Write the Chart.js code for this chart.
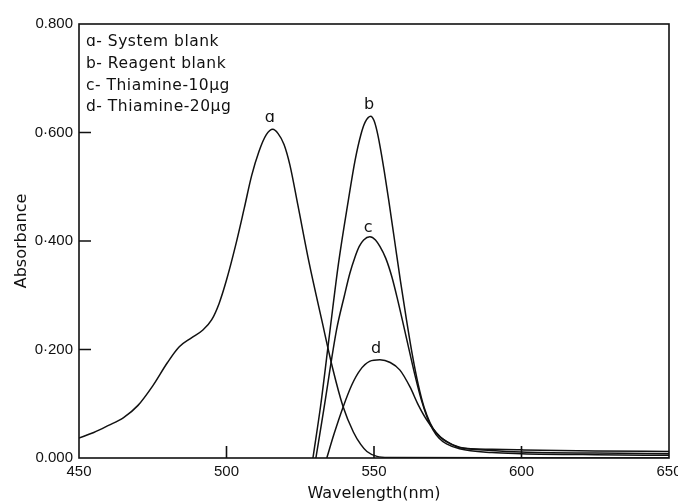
<!DOCTYPE html>
<html>
<head>
<meta charset="utf-8">
<script src="https://cdn.jsdelivr.net/npm/chart.js@4/dist/chart.umd.min.js"></script>
<style>
  html, body { margin: 0; padding: 0; background: #fff; }
  #wrap { position: relative; width: 678px; height: 504px; }
</style>
</head>
<body>
<div id="wrap"><canvas id="spectra"></canvas></div>
<script>
// curve a - system blank
const aWavelength = [450, 455, 460, 465, 470, 475, 480, 484, 488, 492, 495, 497.5, 500, 503, 506, 508.5, 511, 513.5, 515.7, 517.5, 519.5, 521.5, 524.2, 528, 532.3, 536, 539.5, 543, 545.5, 547.6, 551, 555, 650];
const aAbsorbance = [0.037, 0.047, 0.060, 0.074, 0.097, 0.133, 0.176, 0.205, 0.221, 0.236, 0.255, 0.285, 0.328, 0.39, 0.46, 0.52, 0.565, 0.596, 0.606, 0.598, 0.578, 0.54, 0.466, 0.36, 0.254, 0.165, 0.095, 0.048, 0.025, 0.012, 0.003, 0.001, 0];

// curve b - reagent blank
const bWavelength = [529.3, 532, 535.1, 538, 541.3, 543.6, 545.5, 547, 548.9, 550, 551, 552, 553.5, 555, 557, 559, 561, 563, 565, 567, 569, 571, 574.6, 579, 590, 600, 625, 650];
const bAbsorbance = [0, 0.10, 0.236, 0.36, 0.475, 0.549, 0.595, 0.619, 0.630, 0.622, 0.603, 0.576, 0.528, 0.475, 0.40, 0.325, 0.255, 0.19, 0.135, 0.093, 0.065, 0.047, 0.030, 0.020, 0.014, 0.011, 0.009, 0.008];

// curve c - thiamine 10 ug
const cWavelength = [530.3, 533, 537.3, 540, 541.8, 543.6, 545, 546.5, 548.6, 550.5, 552, 554, 556, 558, 560, 562, 564, 566, 568, 570, 572, 574.6, 579, 590, 600, 625, 650];
const cAbsorbance = [0, 0.09, 0.236, 0.30, 0.34, 0.371, 0.39, 0.402, 0.408, 0.402, 0.39, 0.368, 0.335, 0.292, 0.245, 0.197, 0.15, 0.108, 0.075, 0.052, 0.037, 0.026, 0.017, 0.010, 0.008, 0.006, 0.005];

// curve d - thiamine 20 ug
const dWavelength = [534, 536.5, 539.6, 542.5, 545.3, 548.5, 552, 555.5, 558.8, 562.2, 565, 567.9, 572.4, 576, 579.2, 590, 600, 625, 650];
const dAbsorbance = [0, 0.045, 0.095, 0.135, 0.162, 0.178, 0.181, 0.176, 0.162, 0.131, 0.098, 0.070, 0.039, 0.026, 0.019, 0.016, 0.015, 0.013, 0.012];

const yTickLabels = ["0.000", "0\u00b7200", "0\u00b7400", "0\u00b7600", "0.800"];
const innerXTicks = [500, 550, 600];
const innerYTicks = [0.2, 0.4, 0.6];

const curveLetters = ["\u0251", "b", "c", "d"];
const letterWavelength = [514.7, 548.3, 548, 550.7];
const letterAbsorbance = [0.627, 0.651, 0.424, 0.201];

const keyLines = ["\u0251- System blank", "b- Reagent blank", "c- Thiamine-10\u00b5g", "d- Thiamine-20\u00b5g"];

const ink = "#111";

const toPoints = (xs, ys) => xs.map((v, i) => ({ x: v, y: ys[i] }));

const makeSet = (label, xs, ys) => ({
  label: label,
  data: toPoints(xs, ys),
  borderColor: ink,
  borderWidth: 1.5,
  pointRadius: 0,
  fill: false,
  cubicInterpolationMode: "monotone",
});

// frame, inward ticks, curve letters and the key
const decorations = {
  id: "decorations",
  afterDatasetsDraw(chart) {
    const { ctx, chartArea: area, scales: { x, y } } = chart;
    ctx.save();
    ctx.strokeStyle = ink;
    ctx.lineWidth = 1.6;
    ctx.strokeRect(area.left, area.top, area.right - area.left, area.bottom - area.top);

    ctx.beginPath();
    innerXTicks.forEach((v) => {
      const px = x.getPixelForValue(v);
      ctx.moveTo(px, area.bottom);
      ctx.lineTo(px, area.bottom - 12);
    });
    innerYTicks.forEach((v) => {
      const py = y.getPixelForValue(v);
      ctx.moveTo(area.left, py);
      ctx.lineTo(area.left + 12, py);
    });
    ctx.stroke();

    ctx.fillStyle = ink;
    ctx.font = '16px "DejaVu Sans"';
    ctx.textAlign = "center";
    ctx.textBaseline = "middle";
    curveLetters.forEach((t, i) => {
      ctx.fillText(t, x.getPixelForValue(letterWavelength[i]), y.getPixelForValue(letterAbsorbance[i]));
    });

    ctx.textAlign = "left";
    ctx.font = '15.5px "DejaVu Sans"';
    ctx.letterSpacing = "0.5px";
    keyLines.forEach((t, i) => {
      ctx.fillText(t, area.left + 7, area.top + 18 + i * 21.8);
    });
    ctx.restore();
  },
};

new Chart(document.getElementById("spectra"), {
  type: "line",
  data: {
    datasets: [
      makeSet("a", aWavelength, aAbsorbance),
      makeSet("b", bWavelength, bAbsorbance),
      makeSet("c", cWavelength, cAbsorbance),
      makeSet("d", dWavelength, dAbsorbance),
    ],
  },
  options: {
    responsive: true,
    maintainAspectRatio: false,
    animation: false,
    events: [],
    layout: { padding: { top: 24, right: 9, left: 0, bottom: 0 } },
    plugins: { legend: { display: false }, tooltip: { enabled: false } },
    scales: {
      x: {
        type: "linear",
        min: 450,
        max: 650,
        afterFit(s) {
          s.height = 46;
          s.paddingLeft = 0;
          s.paddingRight = 0;
        },
        ticks: {
          stepSize: 50,
          padding: 5,
          color: ink,
          maxRotation: 0,
          font: { family: "'Liberation Sans'", size: 15 },
        },
        grid: { display: false, drawTicks: false },
        border: { display: false },
        title: {
          display: true,
          text: "Wavelength(nm)",
          color: ink,
          font: { family: "'DejaVu Sans'", size: 16 },
          padding: { top: 0, bottom: 1 },
        },
      },
      y: {
        min: 0,
        max: 0.8,
        afterFit(s) {
          s.width = 79;
          s.paddingTop = 0;
          s.paddingBottom = 0;
        },
        ticks: {
          stepSize: 0.2,
          padding: 6,
          color: ink,
          font: { family: "'Liberation Sans'", size: 15 },
          callback: (v) => yTickLabels[Math.round(v / 0.2)],
        },
        grid: { display: false, drawTicks: false },
        border: { display: false },
        title: {
          display: true,
          text: "Absorbance",
          color: ink,
          font: { family: "'DejaVu Sans'", size: 16 },
          padding: { top: 12, bottom: 0 },
        },
      },
    },
  },
  plugins: [decorations],
});
</script>
</body>
</html>
